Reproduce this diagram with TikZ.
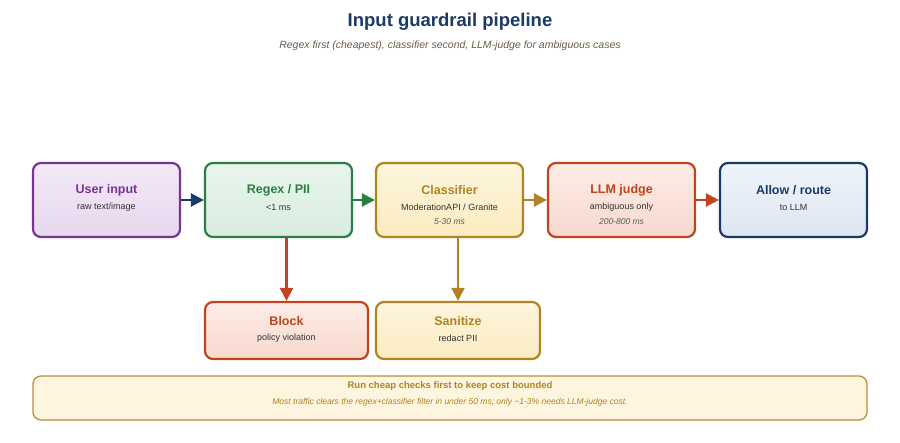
\documentclass[tikz,border=0pt]{standalone}
\usepackage{fontspec}
\setmainfont{Liberation Sans}
\usetikzlibrary{arrows.meta}
\definecolor{cpur}{HTML}{7A3393}\definecolor{fpur}{HTML}{F3E9F7}\definecolor{gpur}{HTML}{E6D8EE}
\definecolor{cgrn}{HTML}{2A7F45}\definecolor{fgrn}{HTML}{E9F5EC}\definecolor{ggrn}{HTML}{D9EDDF}
\definecolor{cgld}{HTML}{B08424}\definecolor{fgld}{HTML}{FDF5DD}\definecolor{ggld}{HTML}{FBEBC0}
\definecolor{cred}{HTML}{C0441E}\definecolor{fred}{HTML}{FCEDE7}\definecolor{gred}{HTML}{F8D9CD}
\definecolor{cnav}{HTML}{1C3A66}\definecolor{fnav}{HTML}{EEF3FA}\definecolor{gnav}{HTML}{DDE7F2}
\definecolor{csub}{HTML}{6B5A4A}\definecolor{ctxt}{HTML}{333333}
\tikzset{
 box/.style n args={3}{draw=#1,top color=#2,bottom color=#3,line width=2.2pt,rounded corners=8pt,minimum height=74pt,minimum width=147pt,align=center,inner sep=0pt},
 bt/.style={font=\bfseries\fontsize{12.5}{14}\selectfont},
 st/.style={font=\fontsize{9}{11}\selectfont,text=ctxt},
 it/.style={font=\itshape\fontsize{8.5}{10}\selectfont,text=ctxt!80},
 arr/.style={draw=#1,line width=2.4pt,-{Triangle[length=13pt,width=13pt,fill=#1]}},
}
\begin{document}
\begin{tikzpicture}[x=1pt,y=-1pt]
\useasboundingbox (0,0) rectangle (900,442);
\node[font=\bfseries\fontsize{18.5}{20}\selectfont,text=cnav] (title) at (450,22) {Input guardrail pipeline};
\node[font=\itshape\fontsize{10.5}{12}\selectfont,text=csub] (sub) at (450,46) {Regex first (cheapest), classifier second, LLM-judge for ambiguous cases};
\node[box={cpur}{fpur}{gpur}] (u) at (106.5,200) {};
\node[bt,text=cpur] at (106.5,190) {User input};
\node[st] at (106.5,207) {raw text/image};
\node[box={cgrn}{fgrn}{ggrn}] (r) at (278.5,200) {};
\node[bt,text=cgrn] at (278.5,190) {Regex / PII};
\node[st] at (278.5,207) {<1 ms};
\node[box={cgld}{fgld}{ggld}] (c) at (449.5,200) {};
\node[bt,text=cgld] at (449.5,190) {Classifier};
\node[st] at (449.5,207) {ModerationAPI / Granite};
\node[it] at (449.5,222) {5-30 ms};
\node[box={cred}{fred}{gred}] (l) at (621.5,200) {};
\node[bt,text=cred] at (621.5,190) {LLM judge};
\node[st] at (621.5,207) {ambiguous only};
\node[it] at (621.5,222) {200-800 ms};
\node[box={cnav}{fnav}{gnav}] (a) at (793.5,200) {};
\node[bt,text=cnav] at (793.5,190) {Allow / route};
\node[st] at (793.5,207) {to LLM};
\node[box={cred}{fred}{gred},minimum width=163pt,minimum height=57pt] (b) at (286.5,330.5) {};
\node[bt,text=cred] at (286.5,321) {Block};
\node[st] at (286.5,338) {policy violation};
\node[box={cgld}{fgld}{ggld},minimum width=164pt,minimum height=57pt] (s) at (458,330.5) {};
\node[bt,text=cgld] at (458,321) {Sanitize};
\node[st] at (458,338) {redact PII};
\draw[arr=cnav] (u) -- (r);
\draw[arr=cgrn] (r) -- (c);
\draw[arr=cgld] (c) -- (l);
\draw[arr=cred] (l) -- (a);
\draw[arr=cred] (r.south -| b.north) -- (b.north);
\draw[arr=cgld] (c.south -| s.north) -- (s.north);
\node[draw=cgld!90,fill=fgld,line width=1.3pt,rounded corners=8pt,minimum width=834pt,minimum height=44pt] (f) at (450,398) {};
\node[font=\bfseries\fontsize{9.5}{11}\selectfont,text=cgld] at (450,386) {Run cheap checks first to keep cost bounded};
\node[font=\itshape\fontsize{8.5}{10}\selectfont,text=cgld] at (450,402) {Most traffic clears the regex+classifier filter in under 50 ms; only \textasciitilde1-3\% needs LLM-judge cost.};
\end{tikzpicture}
\end{document}
